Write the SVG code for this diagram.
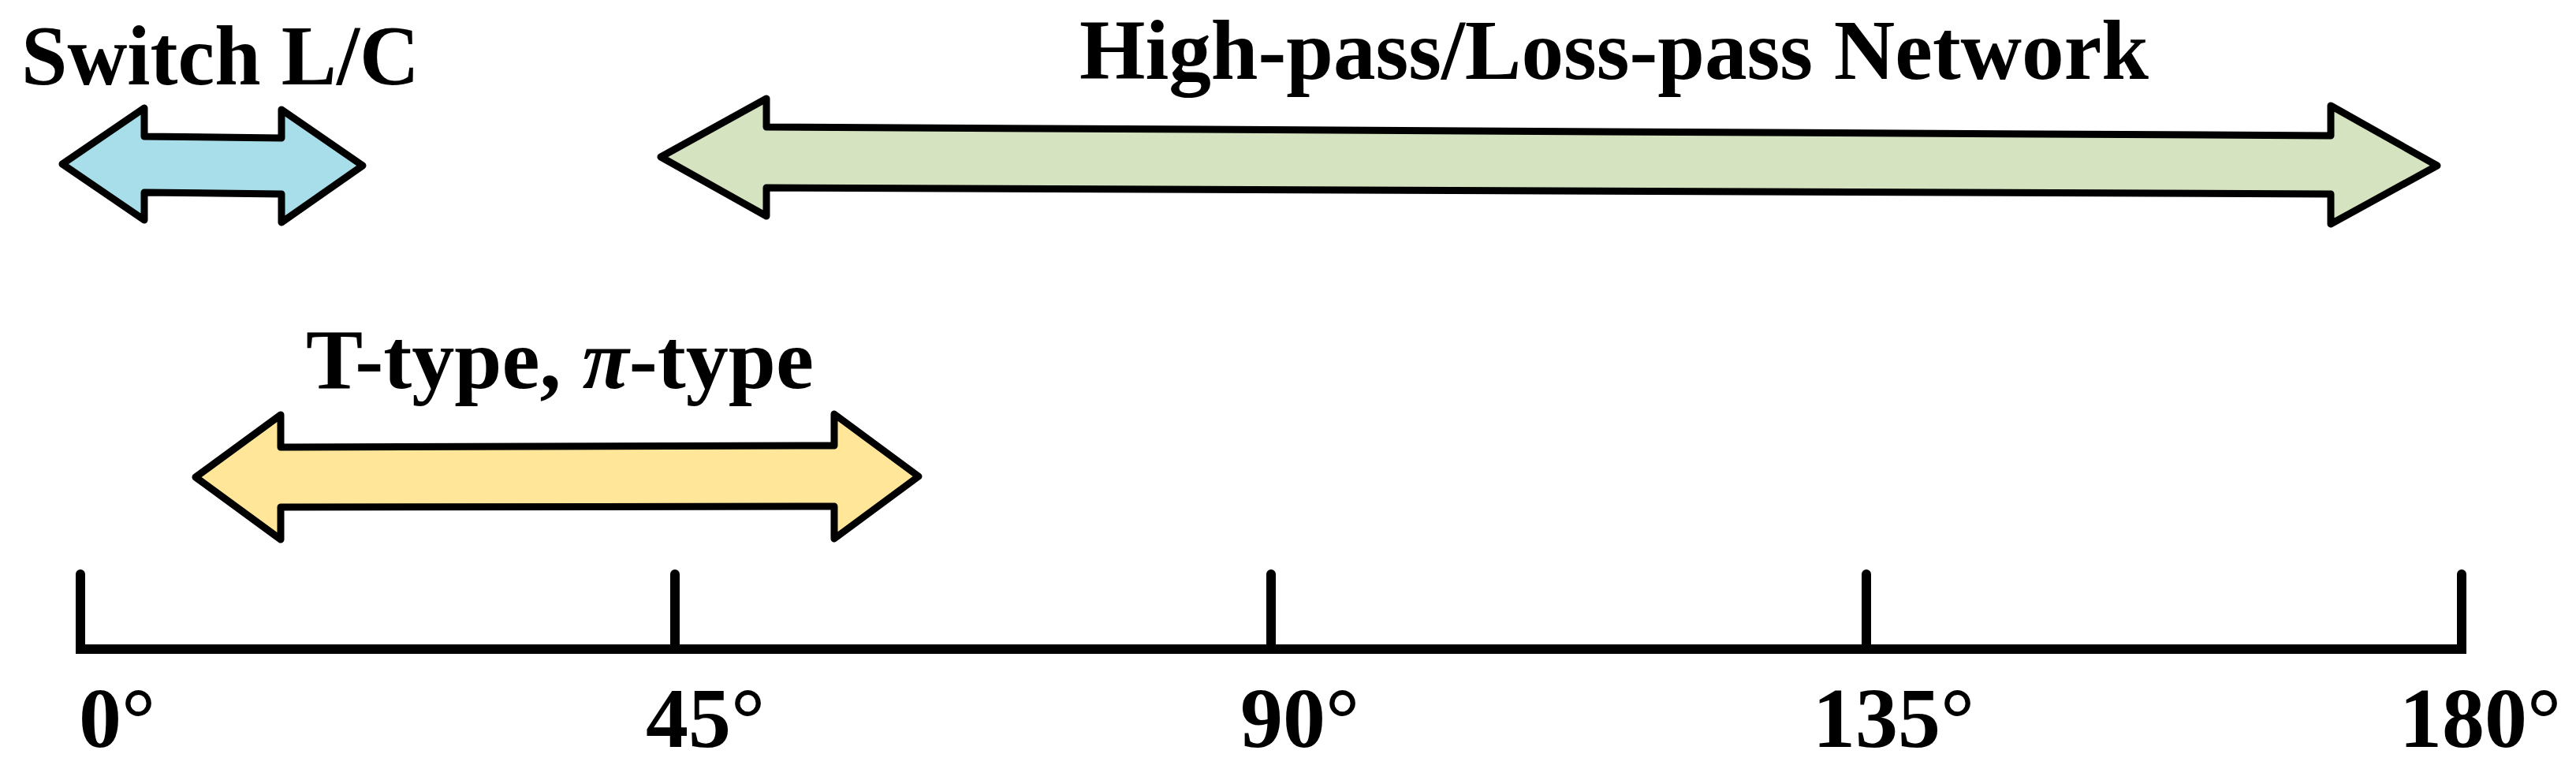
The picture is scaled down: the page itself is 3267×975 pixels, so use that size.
<svg xmlns="http://www.w3.org/2000/svg" width="3267" height="975" viewBox="0 0 3267 975">
<style>
.lbl{font-family:"Liberation Serif","Times New Roman",serif;font-weight:bold;fill:#000;}
.arr{stroke:#000;stroke-width:9;stroke-linejoin:round;}
.axis{stroke:#000;stroke-width:12;stroke-linecap:round;fill:none;}
</style>
<rect width="3267" height="975" fill="#fff"/>
<g id="switch-lc">
<polygon class="arr" fill="#A8DEE9" points="79,208 183,137 183,173 357,175 357,139 460,210 357,282 357,246 183,244 183,279"/>
<text class="lbl" x="27" y="107" font-size="108" textLength="505" lengthAdjust="spacingAndGlyphs">Switch L/C</text>
</g>
<g id="highpass-lowpass">
<polygon class="arr" fill="#D5E3C0" points="838,199 972,125 972,161 2956,172 2956,134 3091,210 2956,284 2956,246 972,238 972,274"/>
<text class="lbl" x="1369" y="100" font-size="107" textLength="1356" lengthAdjust="spacingAndGlyphs">High-pass/Loss-pass Network</text>
</g>
<g id="t-pi-type">
<polygon class="arr" fill="#FFE699" points="248,605 356,526 356,567 1058,565 1058,525 1165,604 1058,683 1058,642 356,643 356,684"/>
<text class="lbl" x="388" y="492" font-size="107" textLength="644" lengthAdjust="spacingAndGlyphs">T-type, <tspan font-style="italic">π</tspan>-type</text>
</g>
<g id="axis">
<path class="axis" d="M102,728 V823 H3122 V728"/>
<path class="axis" d="M856,728 V823 M1612,728 V823 M2367,728 V823"/>
<text class="lbl" x="100" y="947" font-size="108">0°</text>
<text class="lbl" x="819" y="947" font-size="108">45°</text>
<text class="lbl" x="1573" y="947" font-size="108">90°</text>
<text class="lbl" x="2299" y="947" font-size="108">135°</text>
<text class="lbl" x="3043" y="947" font-size="108">180°</text>
</g>
</svg>
